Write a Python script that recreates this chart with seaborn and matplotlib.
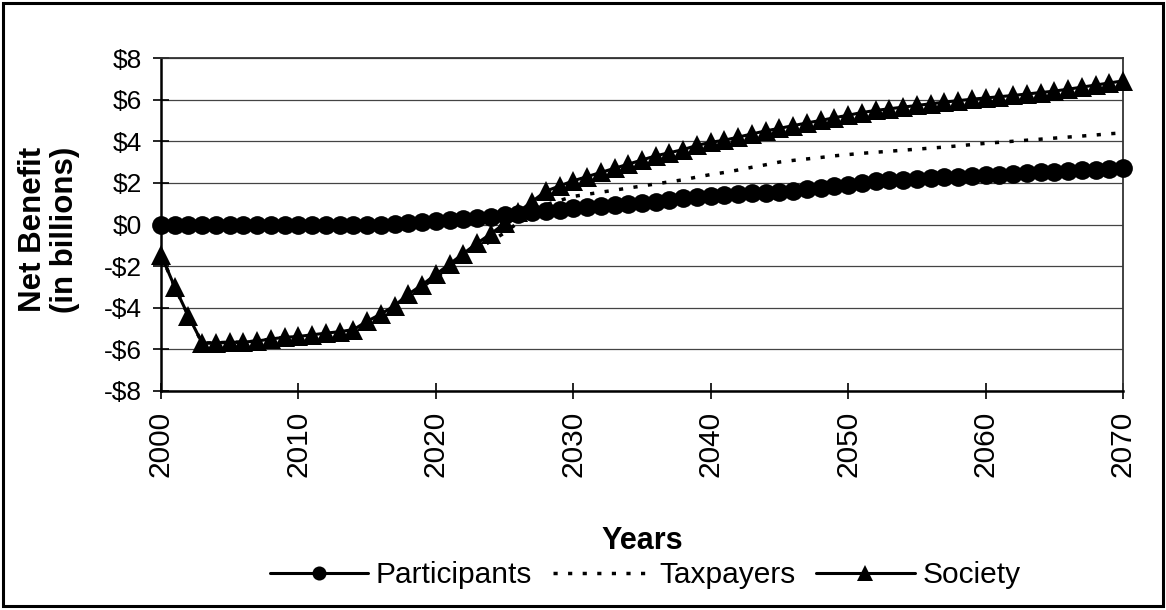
import matplotlib
matplotlib.use("Agg")
import matplotlib.pyplot as plt
from matplotlib.patches import Rectangle
import seaborn as sns
import pandas as pd

years = list(range(2000, 2071))

participants = [
    0.0, 0.0, 0.0, 0.0, 0.0, 0.0, 0.0, 0.0, 0.0, 0.0,
    0.0, 0.0, 0.0, 0.0, 0.0, 0.0, 0.0, 0.02, 0.06, 0.1,
    0.15, 0.2, 0.25, 0.3, 0.38, 0.45, 0.5, 0.58, 0.65, 0.72,
    0.78, 0.83, 0.88, 0.93, 0.98, 1.04, 1.1, 1.17, 1.25, 1.3,
    1.35, 1.4, 1.45, 1.5, 1.53, 1.57, 1.63, 1.7, 1.77, 1.85,
    1.92, 2.0, 2.07, 2.12, 2.16, 2.2, 2.24, 2.27, 2.3, 2.33,
    2.36, 2.39, 2.42, 2.46, 2.5, 2.53, 2.56, 2.6, 2.63, 2.66,
    2.7,
]

taxpayers = [
    -1.45, -3.0, -4.4, -5.7, -5.68, -5.66, -5.65, -5.6, -5.5, -5.42,
    -5.38, -5.3, -5.22, -5.15, -5.05, -4.65, -4.3, -3.92, -3.4, -3.0,
    -2.55, -2.1, -1.65, -1.2, -0.8, -0.4, 0.1, 0.5, 0.95, 1.15,
    1.35, 1.45, 1.55, 1.65, 1.75, 1.85, 1.95, 2.05, 2.15, 2.28,
    2.4, 2.5, 2.62, 2.75, 2.87, 3.0, 3.08, 3.15, 3.22, 3.3,
    3.36, 3.42, 3.47, 3.52, 3.57, 3.62, 3.67, 3.72, 3.78, 3.84,
    3.9, 3.95, 4.0, 4.05, 4.1, 4.15, 4.2, 4.25, 4.3, 4.36,
    4.4,
]

society = [
    -1.45, -3.0, -4.4, -5.7, -5.68, -5.66, -5.65, -5.6, -5.5, -5.42,
    -5.38, -5.3, -5.22, -5.15, -5.05, -4.65, -4.3, -3.9, -3.35, -2.9,
    -2.4, -1.9, -1.4, -0.9, -0.45, 0.05, 0.6, 1.1, 1.6, 1.85,
    2.1, 2.3, 2.5, 2.7, 2.9, 3.1, 3.3, 3.45, 3.6, 3.8,
    3.95, 4.05, 4.2, 4.35, 4.5, 4.62, 4.75, 4.88, 5.0, 5.13,
    5.25, 5.38, 5.48, 5.56, 5.64, 5.72, 5.8, 5.88, 5.95, 6.02,
    6.08, 6.14, 6.2, 6.27, 6.34, 6.41, 6.5, 6.6, 6.7, 6.8,
    6.9,
]

series_names = ["Participants", "Taxpayers", "Society"]
xticks = [2000, 2010, 2020, 2030, 2040, 2050, 2060, 2070]
yticks = [8, 6, 4, 2, 0, -2, -4, -6, -8]
ytick_labels = ["$8", "$6", "$4", "$2", "$0", "-$2", "-$4", "-$6", "-$8"]

df = pd.DataFrame({"Year": years, "Participants": participants,
                   "Taxpayers": taxpayers, "Society": society})

sns.set_style("ticks")
plt.rcParams["font.family"] = ["Liberation Sans", "DejaVu Sans"]
plt.rcParams["text.color"] = "black"
plt.rcParams["axes.labelcolor"] = "black"
plt.rcParams["xtick.color"] = "black"
plt.rcParams["ytick.color"] = "black"

fig = plt.figure(figsize=(11.66, 6.10), dpi=100)
ax = fig.add_axes([161 / 1166, 1 - 391 / 610, (1123 - 161) / 1166, (391 - 58) / 610])

ax.set_axisbelow(True)
ax.grid(axis="y", color="#444444", linewidth=0.9)
ax.grid(axis="x", visible=False)

sns.lineplot(data=df, x="Year", y="Taxpayers", ax=ax, color="black",
             linewidth=2.5, linestyle=(0, (1.2, 3.0)), label=series_names[1],
             zorder=3)
sns.lineplot(data=df, x="Year", y="Participants", ax=ax, color="black",
             linewidth=2.2, marker="o", markersize=13.5, markeredgewidth=0,
             label=series_names[0], zorder=4, clip_on=False)
sns.lineplot(data=df, x="Year", y="Society", ax=ax, color="black",
             linewidth=2.2, marker="^", markersize=14.5, markeredgewidth=0,
             label=series_names[2], zorder=5, clip_on=False)

ax.set_xlim(2000, 2070)
ax.set_ylim(-8, 8)
ax.set_xticks(xticks)
ax.set_xticklabels([str(t) for t in xticks], rotation=90, fontsize=21.5)
ax.set_yticks(yticks)
ax.set_yticklabels(ytick_labels, fontsize=19)
ax.tick_params(axis="both", direction="inout", length=11, width=1.2, color="black")
ax.tick_params(axis="y", pad=8)
ax.tick_params(axis="x", pad=9)

for side in ["left", "bottom"]:
    ax.spines[side].set_color("black")
    ax.spines[side].set_linewidth(1.8)
for side in ["top", "right"]:
    ax.spines[side].set_visible(True)
    ax.spines[side].set_color("#333333")
    ax.spines[side].set_linewidth(1.3)

ax.set_ylabel("Net Benefit\n(in billions)", fontsize=22.5, fontweight="bold",
              linespacing=1.1)
ax.yaxis.set_label_coords(-0.084, 0.485)
ax.set_xlabel("Years", fontsize=22, fontweight="bold")
ax.xaxis.set_label_coords(0.5, -0.405)

handles, labels = ax.get_legend_handles_labels()
order = [labels.index(n) for n in series_names]
leg = ax.legend([handles[i] for i in order], [labels[i] for i in order],
                loc="center", bbox_to_anchor=(645 / 1166, 1 - 575 / 610),
                bbox_transform=fig.transFigure, ncol=3, frameon=False,
                fontsize=21.5, handlelength=3.3, handletextpad=0.25,
                columnspacing=0.7, markerscale=0.75)

fig.patches.append(Rectangle((0.003, 0.006), 0.994, 0.989, transform=fig.transFigure,
                             fill=False, edgecolor="black", linewidth=2.2))

fig.savefig("out.png", dpi=100)
